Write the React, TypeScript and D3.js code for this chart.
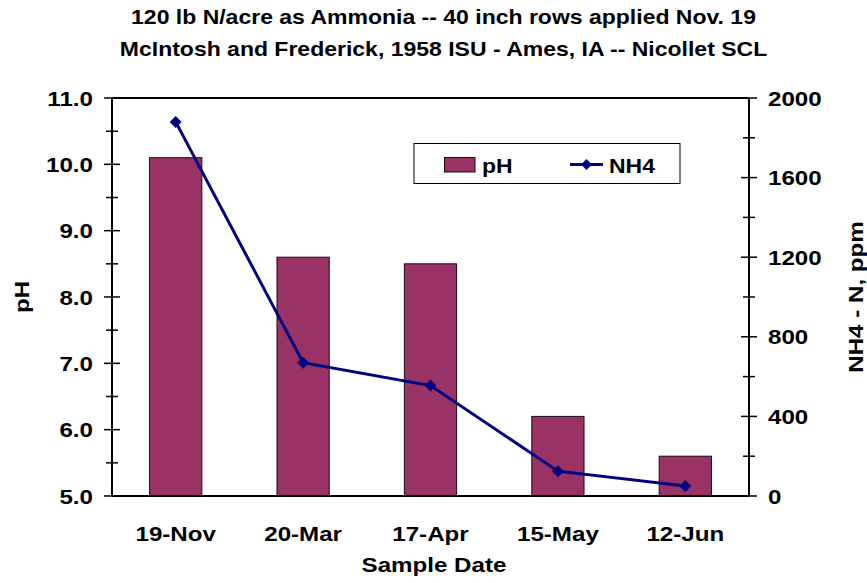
import React from "react";
import * as d3 from "d3";

const categories = ["19-Nov", "20-Mar", "17-Apr", "15-May", "12-Jun"];
const phValues = [10.1, 8.6, 8.5, 6.2, 5.6];
const nh4Values = [1880, 670, 555, 125, 50];
const leftTicks = [5, 6, 7, 8, 9, 10, 11];
const leftMinor = [5.5, 6.5, 7.5, 8.5, 9.5, 10.5];
const rightTicks = [0, 400, 800, 1200, 1600, 2000];
const rightMinor = [200, 600, 1000, 1400, 1800];
const titleLines = [
  "120 lb N/acre as Ammonia -- 40 inch rows applied Nov. 19",
  "McIntosh and Frederick, 1958 ISU - Ames, IA -- Nicollet SCL",
];

const W = 867;
const H = 583;
const M = { left: 112, right: 749, top: 98, bottom: 496 };
const FONT = "'Liberation Sans', Arial, sans-serif";
const BAR = "#993366";
const LINE = "#000080";

function T(props: {
  x: number;
  y: number;
  size: number;
  anchor?: string;
  rotate?: number;
  sx?: number;
  children: React.ReactNode;
}) {
  const { x, y, size, anchor = "start", rotate, sx = 1.15, children } = props;
  const tr = `translate(${x},${y})${rotate ? ` rotate(${rotate})` : ""} scale(${sx},1)`;
  return (
    <text transform={tr} textAnchor={anchor} fontSize={size} fontWeight="bold" fill="#000">
      {children}
    </text>
  );
}

export default function App() {
  const xc = d3.scaleBand<string>().domain(categories).range([M.left, M.right]);
  const yL = d3.scaleLinear().domain([5, 11]).range([M.bottom, M.top]);
  const yR = d3.scaleLinear().domain([0, 2000]).range([M.bottom, M.top]);
  const cxOf = (i: number) => (xc(categories[i]) as number) + xc.bandwidth() / 2;
  const line = d3
    .line<number>()
    .x((_, i) => cxOf(i))
    .y((d) => yR(d));
  const diamond = (cx: number, cy: number, r: number) =>
    `M${cx},${cy - r}L${cx + r},${cy}L${cx},${cy + r}L${cx - r},${cy}Z`;
  const bw = xc.bandwidth() * 0.41;

  return (
    <svg width={W} height={H} style={{ position: "absolute", left: 0, top: 0, background: "#fff" }} fontFamily={FONT}>
      <rect x={0} y={0} width={W} height={H} fill="#fff" />
      {titleLines.map((t, i) => (
        <T key={i} x={443.5} y={24 + i * 32} size={20} anchor="middle">
          {t}
        </T>
      ))}
      {/* bars */}
      {phValues.map((v, i) => (
        <rect
          key={i}
          x={cxOf(i) - bw / 2}
          y={yL(v)}
          width={bw}
          height={M.bottom - yL(v)}
          fill={BAR}
          stroke="#1a0a10"
          strokeWidth={1}
        />
      ))}
      {/* top border */}
      <line x1={M.left} x2={M.right} y1={M.top} y2={M.top} stroke="#000" strokeWidth={2} />
      {/* axes */}
      <line x1={M.left} x2={M.left} y1={M.top} y2={M.bottom} stroke="#000" strokeWidth={2} />
      <line x1={M.right} x2={M.right} y1={M.top} y2={M.bottom} stroke="#000" strokeWidth={2} />
      <line x1={M.left} x2={M.right} y1={M.bottom} y2={M.bottom} stroke="#000" strokeWidth={2} />
      {leftTicks.map((t) => (
        <g key={t}>
          <line x1={M.left - 8} x2={M.left + 8} y1={yL(t)} y2={yL(t)} stroke="#000" strokeWidth={1.5} />
          <T x={93} y={yL(t) + 7.5} size={21} anchor="end">
            {t.toFixed(1)}
          </T>
        </g>
      ))}
      {leftMinor.map((t) => (
        <line key={t} x1={M.left - 6} x2={M.left + 6} y1={yL(t)} y2={yL(t)} stroke="#000" strokeWidth={1.5} />
      ))}
      {rightTicks.map((t) => (
        <g key={t}>
          <line x1={M.right - 8} x2={M.right + 8} y1={yR(t)} y2={yR(t)} stroke="#000" strokeWidth={1.5} />
          <T x={768} y={yR(t) + 7.5} size={21} anchor="start">
            {t}
          </T>
        </g>
      ))}
      {rightMinor.map((t) => (
        <line key={t} x1={M.right - 6} x2={M.right + 6} y1={yR(t)} y2={yR(t)} stroke="#000" strokeWidth={1.5} />
      ))}
      {categories.map((c, i) => (
        <T key={c} x={cxOf(i)} y={541} size={21} anchor="middle">
          {c}
        </T>
      ))}
      <T x={434} y={572} size={21} anchor="middle">
        Sample Date
      </T>
      <T x={28.5} y={297} size={21} anchor="middle" rotate={-90}>
        pH
      </T>
      <T x={863} y={297} size={21} anchor="middle" rotate={-90}>
        NH4 - N, ppm
      </T>
      {/* line series */}
      <path d={line(nh4Values) || ""} fill="none" stroke={LINE} strokeWidth={3} />
      {nh4Values.map((v, i) => (
        <path key={i} d={diamond(cxOf(i), yR(v), 6)} fill={LINE} />
      ))}
      {/* legend */}
      <rect x={414} y={143.5} width={266} height={40} fill="#fff" stroke="#000" strokeWidth={1} />
      <rect x={444.5} y={157.5} width={30.5} height={14.5} fill={BAR} stroke="#1a0a10" strokeWidth={1} />
      <T x={482} y={172.5} size={20}>
        pH
      </T>
      <line x1={570} x2={603} y1={164.5} y2={164.5} stroke={LINE} strokeWidth={3} />
      <path d={diamond(586.5, 164.5, 5.5)} fill={LINE} />
      <T x={609} y={172.5} size={20}>
        NH4
      </T>
    </svg>
  );
}
